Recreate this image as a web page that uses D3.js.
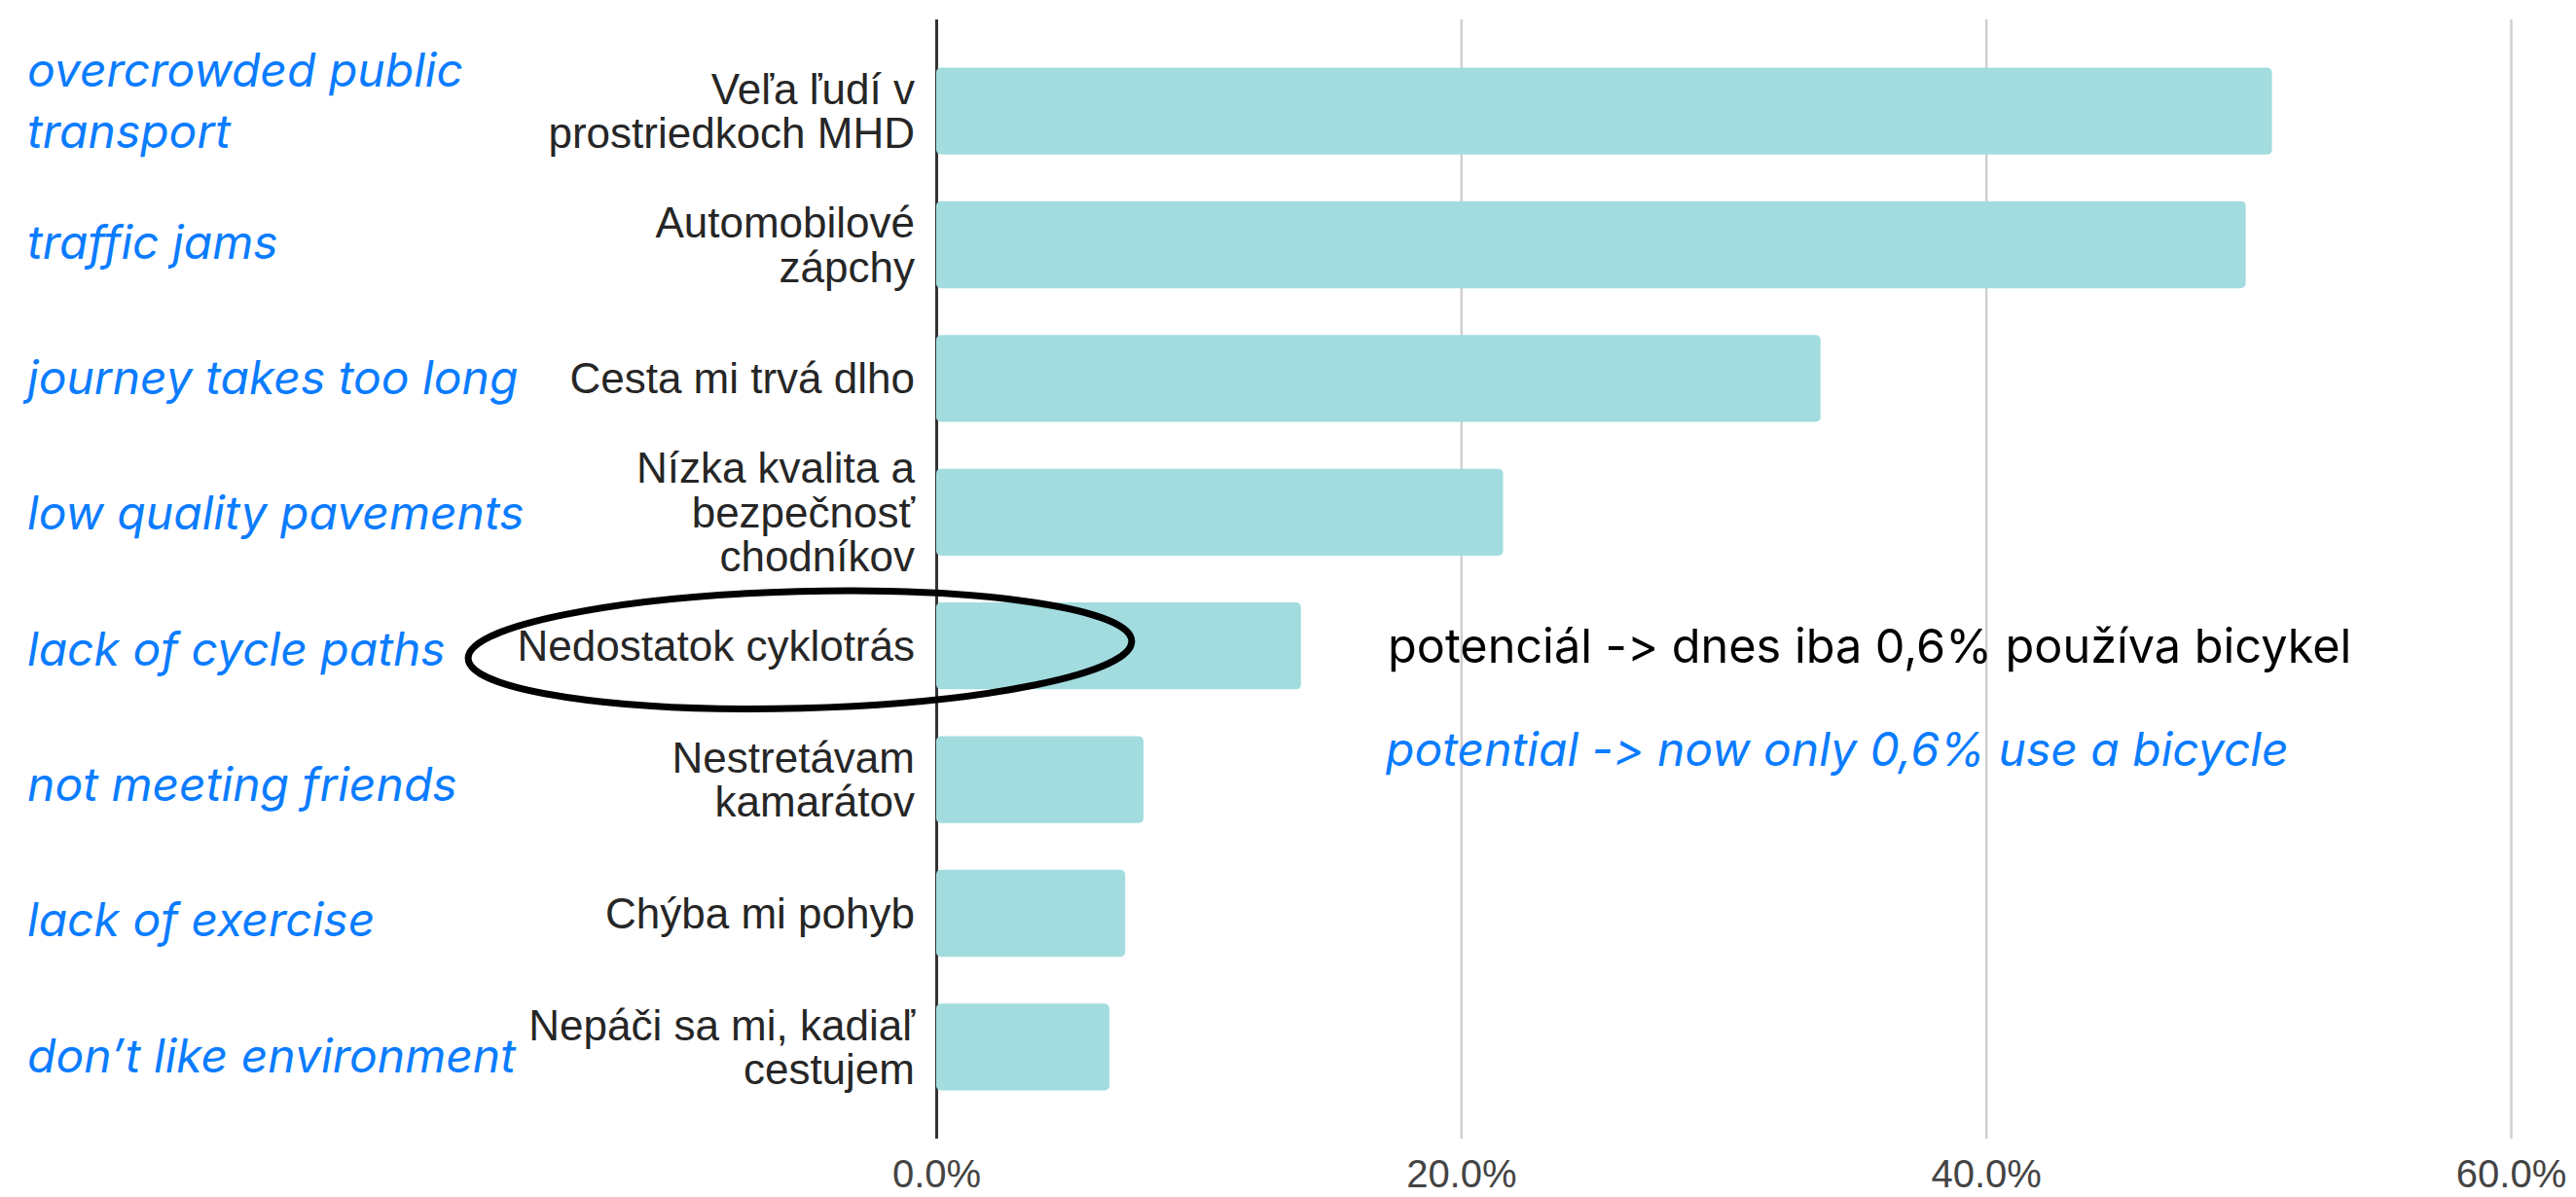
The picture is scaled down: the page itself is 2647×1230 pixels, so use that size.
<!DOCTYPE html>
<html>
<head>
<meta charset="utf-8">
<script src="https://cdn.jsdelivr.net/npm/d3@7"></script>
<style>
  body { margin: 0; background: #fff; }
  svg { display: block; }
  .inter { font-family: Inter, 'Noto Sans', sans-serif; font-feature-settings: "calt" 0, "liga" 0; font-variant-ligatures: none; }
</style>
</head>
<body>
<div id="chart"></div>
<script>
// category labels (Slovak), one entry per bar, split into lines
const categories = [
  ["Veľa ľudí v", "prostriedkoch MHD"],
  ["Automobilové", "zápchy"],
  ["Cesta mi trvá dlho"],
  ["Nízka kvalita a", "bezpečnosť", "chodníkov"],
  ["Nedostatok cyklotrás"],
  ["Nestretávam", "kamarátov"],
  ["Chýba mi pohyb"],
  ["Nepáči sa mi, kadiaľ", "cestujem"]
];
// share of answers in %
const values = [50.9, 49.9, 33.7, 21.6, 13.9, 7.9, 7.2, 6.6];
// english translations shown on the far left
const translations = [
  ["overcrowded public", "transport"],
  ["traffic jams"],
  ["journey takes too long"],
  ["low quality pavements"],
  ["lack of cycle paths"],
  ["not meeting friends"],
  ["lack of exercise"],
  ["don’t like environment"]
];
const xTicks = [0, 20, 40, 60];
const noteSk = "potenciál -> dnes iba 0,6% používa bicykel";
const noteEn = "potential -> now only 0,6% use a bicycle";
const highlighted = 4; // "Nedostatok cyklotrás"

const wid = 2647, hei = 1230;
const plotTop = 20, plotBottom = 1170;
const blue = "#0a7cff";

const svg = d3.select("#chart").append("svg")
  .attr("width", wid).attr("height", hei);

const keys = categories.map(c => c.join(" "));

// scales
const xScale = d3.scaleLinear().domain([0, 60]).range([962, 2580]);
const yScale = d3.scaleBand()
  .domain(keys)
  .range([plotTop, plotBottom])
  .paddingInner(0.35)
  .paddingOuter(0.36);

// grid + tick labels
const xAxis = d3.axisBottom(xScale)
  .tickValues(xTicks)
  .tickSize(-(plotBottom - plotTop))
  .tickPadding(22)
  .tickFormat(d => d.toFixed(1) + "%");

const gx = svg.append("g")
  .attr("transform", `translate(0,${plotBottom})`)
  .call(xAxis);
gx.select(".domain").remove();
gx.selectAll(".tick line")
  .attr("stroke", d => d === 0 ? "#333" : "#cfcfcf")
  .attr("stroke-width", d => d === 0 ? 3 : 2.5);
gx.selectAll(".tick text")
  .attr("fill", "#444")
  .style("font-family", "'Liberation Sans', Arial, sans-serif")
  .style("font-size", "40px");

// bars
svg.append("g").selectAll("rect")
  .data(values)
  .enter()
  .append("rect")
  .attr("x", xScale(0))
  .attr("y", (d, i) => yScale(keys[i]))
  .attr("width", d => xScale(d) - xScale(0))
  .attr("height", yScale.bandwidth())
  .attr("rx", 5)
  .attr("fill", "#a2dcde");

// category labels
const lineH = 45.5;
const catG = svg.append("g")
  .style("font-family", "'Liberation Sans', Arial, sans-serif")
  .style("font-size", "44px")
  .attr("fill", "#262626")
  .attr("text-anchor", "end");
categories.forEach((lines, i) => {
  const cy = yScale(keys[i]) + yScale.bandwidth() / 2;
  const t = catG.append("text")
    .attr("x", xScale(0) - 22)
    .attr("y", cy - (lines.length - 1) * lineH / 2);
  lines.forEach((l, j) => {
    t.append("tspan")
      .attr("x", xScale(0) - 22)
      .attr("dy", j === 0 ? "0.35em" : lineH)
      .text(l);
  });
});

// english translations (placed by hand in the original, drifting down a little)
const enG = svg.append("g")
  .attr("class", "inter")
  .style("font-style", "italic")
  .style("font-size", "48px")
  .attr("fill", blue);
translations.forEach((lines, i) => {
  const cy = yScale(keys[i]) + yScale.bandwidth() / 2;
  const drift = Math.max(0, i - 1) * 2;
  const baseY = lines.length > 1 ? cy - 25 : cy + 14 + drift;
  lines.forEach((l, j) => {
    enG.append("text")
      .attr("x", 28)
      .attr("y", baseY + j * 63)
      .text(l);
  });
});

// highlight ellipse round the cycle-path label
const hy = yScale(keys[highlighted]) + yScale.bandwidth() / 2;
svg.append("ellipse")
  .attr("cx", xScale(0) - 140)
  .attr("cy", hy + 4)
  .attr("rx", 341)
  .attr("ry", 60)
  .attr("transform", `rotate(-1.5,${xScale(0) - 140},${hy + 4})`)
  .attr("fill", "none")
  .attr("stroke", "#000")
  .attr("stroke-width", 7);

// annotation
svg.append("text")
  .attr("class", "inter")
  .attr("x", 1426).attr("y", hy + 17)
  .style("font-size", "48.6px")
  .attr("fill", "#000")
  .text(noteSk);
svg.append("text")
  .attr("class", "inter")
  .attr("x", 1424).attr("y", hy + 123)
  .style("font-style", "italic")
  .style("font-size", "48px")
  .attr("fill", blue)
  .text(noteEn);
</script>
</body>
</html>
